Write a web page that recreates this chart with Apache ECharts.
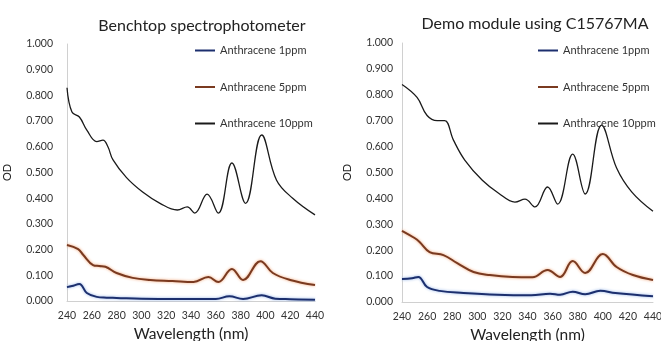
<!DOCTYPE html>
<html>
<head>
<meta charset="utf-8">
<script src="https://cdn.jsdelivr.net/npm/echarts@6/dist/echarts.min.js"></script>
<style>
  html, body { margin: 0; padding: 0; background: #fff; }
  #main { width: 661px; height: 341px; }
</style>
</head>
<body>
<div id="main"></div>
<script>
// benchtop spectrophotometer (left)
var benchNm1 = [240, 244, 250, 256, 264, 272, 280, 300, 330, 350, 360, 371, 382, 397, 408, 420, 440];
var benchOd1 = [0.054, 0.058, 0.066, 0.031, 0.016, 0.013, 0.012, 0.009, 0.008, 0.008, 0.008, 0.018, 0.008, 0.022, 0.009, 0.007, 0.005];
var benchNm5 = [240, 249, 253, 261, 266, 271, 280, 293, 307, 325, 342, 354, 362, 373, 382, 396, 406, 420, 440];
var benchOd5 = [0.218, 0.202, 0.18, 0.14, 0.136, 0.133, 0.109, 0.09, 0.082, 0.078, 0.074, 0.093, 0.074, 0.125, 0.082, 0.155, 0.109, 0.082, 0.062];
var benchNm10 = [240, 244, 250, 256, 264, 269, 273, 277, 288, 301, 315, 329, 337, 343, 353, 362, 373, 384, 397, 409, 422, 440];
var benchOd10 = [0.83, 0.735, 0.716, 0.665, 0.62, 0.626, 0.6, 0.55, 0.48, 0.424, 0.38, 0.354, 0.366, 0.342, 0.416, 0.342, 0.537, 0.38, 0.646, 0.47, 0.4, 0.335];

// demo module using C15767MA (right)
var demoNm1 = [240, 248, 253, 260, 270, 289, 316, 343, 358, 366, 376, 386, 398, 410, 440];
var demoOd1 = [0.089, 0.092, 0.097, 0.058, 0.043, 0.035, 0.028, 0.026, 0.032, 0.028, 0.04, 0.03, 0.043, 0.035, 0.022];
var demoNm5 = [240, 250, 254, 262, 273, 284, 297, 310, 328, 344, 356, 366, 376, 386, 400, 411, 424, 440];
var demoOd5 = [0.275, 0.247, 0.232, 0.193, 0.181, 0.15, 0.116, 0.104, 0.097, 0.096, 0.124, 0.097, 0.158, 0.112, 0.185, 0.135, 0.104, 0.085];
var demoNm10 = [240, 252, 260, 268, 274, 281, 290, 304, 317, 330, 338, 346, 356, 364, 376, 386, 399, 411, 423, 440];
var demoOd10 = [0.84, 0.79, 0.72, 0.7, 0.7, 0.625, 0.548, 0.47, 0.42, 0.386, 0.397, 0.367, 0.444, 0.378, 0.571, 0.417, 0.683, 0.517, 0.425, 0.35];

var names = ['Anthracene 1ppm', 'Anthracene 5ppm', 'Anthracene 10ppm'];

function pairs(xs, ys) {
  return xs.map(function (x, i) { return [x, ys[i]]; });
}

var font = 'Lato, "Open Sans", sans-serif';
var myChart = echarts.init(document.getElementById('main'));

function xAxisOf(idx) {
  return {
    gridIndex: idx, type: 'value', min: 240, max: 440, interval: 20,
    name: 'Wavelength (nm)', nameLocation: 'middle', nameGap: 22,
    nameTextStyle: { fontSize: 15.5, color: '#222', fontFamily: font },
    axisLine: { lineStyle: { color: '#d0d0d0' } },
    axisTick: { show: false },
    splitLine: { show: false },
    axisLabel: { fontSize: 10.5, color: '#333', margin: 9, fontFamily: font }
  };
}
function yAxisOf(idx, gap, margin) {
  return {
    gridIndex: idx, type: 'value', min: 0, max: 1, interval: 0.1,
    name: 'OD', nameLocation: 'middle', nameGap: gap,
    nameTextStyle: { fontSize: 11, color: '#222', fontFamily: font },
    axisLine: { show: true, lineStyle: { color: '#d0d0d0' } },
    axisTick: { show: false },
    splitLine: { show: false },
    axisLabel: { fontSize: 10.5, color: '#333', margin: margin, fontFamily: font,
      formatter: function (v) { return v.toFixed(3); } }
  };
}
function lineOf(name, idx, data, color, width, halo) {
  return {
    name: name, type: 'line', xAxisIndex: idx, yAxisIndex: idx,
    data: data, smooth: 0.4, symbol: 'none',
    lineStyle: { color: color, width: width, shadowColor: halo, shadowBlur: halo ? 3 : 0 },
    itemStyle: { color: color }
  };
}
function legendOf(left) {
  return {
    orient: 'vertical', left: left, top: 40, itemGap: 25.5,
    icon: 'rect', itemWidth: 20, itemHeight: 2,
    data: names,
    textStyle: { fontSize: 11, color: '#333', fontFamily: font }
  };
}

myChart.setOption({
  animation: false,
  title: [
    { text: 'Benchtop spectrophotometer', left: 197, top: 13, textAlign: 'center',
      textStyle: { fontSize: 16, fontWeight: 'normal', color: '#222', fontFamily: font } },
    { text: 'Demo module using C15767MA', left: 530, top: 11, textAlign: 'center',
      textStyle: { fontSize: 16, fontWeight: 'normal', color: '#222', fontFamily: font } }
  ],
  legend: [legendOf(190), legendOf(533)],
  grid: [
    { left: 67, right: 346, top: 44, bottom: 40, outerBoundsMode: 'none' },
    { left: 402, right: 8, top: 43, bottom: 39, outerBoundsMode: 'none' }
  ],
  xAxis: [xAxisOf(0), xAxisOf(1)],
  yAxis: [yAxisOf(0, 54, 14), yAxisOf(1, 49, 9)],
  series: [
    lineOf(names[0], 0, pairs(benchNm1, benchOd1), '#1c2f6e', 2, '#8fb0e6'),
    lineOf(names[1], 0, pairs(benchNm5, benchOd5), '#7a3a20', 2, '#f0a070'),
    lineOf(names[2], 0, pairs(benchNm10, benchOd10), '#1a1a1a', 1.3, null),
    lineOf(names[0], 1, pairs(demoNm1, demoOd1), '#1c2f6e', 2, '#8fb0e6'),
    lineOf(names[1], 1, pairs(demoNm5, demoOd5), '#7a3a20', 2, '#f0a070'),
    lineOf(names[2], 1, pairs(demoNm10, demoOd10), '#1a1a1a', 1.3, null)
  ]
});
</script>
</body>
</html>
